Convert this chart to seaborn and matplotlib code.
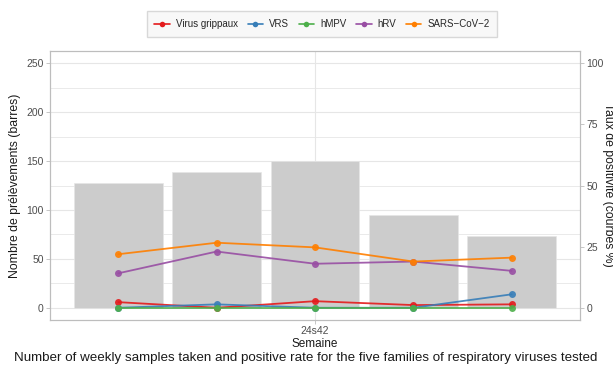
import matplotlib
matplotlib.use("Agg")
import matplotlib.pyplot as plt
import seaborn as sns
import pandas as pd
from matplotlib.lines import Line2D

# Weekly data
weeks = ["24s40", "24s41", "24s42", "24s43", "24s44"]
samples = [128, 139, 150, 95, 73]

virus_names = ["Virus grippaux", "VRS", "hMPV", "hRV", "SARS\u2212CoV\u22122"]
rate_grippe = [2.3, 0.0, 2.7, 1.1, 1.4]
rate_vrs = [0.0, 1.4, 0.0, 0.0, 5.5]
rate_hmpv = [0.0, 0.0, 0.0, 0.0, 0.0]
rate_hrv = [14.1, 23.0, 18.0, 18.9, 15.1]
rate_sars = [21.9, 26.6, 24.7, 18.9, 20.5]
colors = ["#E41A1C", "#377EB8", "#4DAF4A", "#984EA3", "#FF7F00"]

sns.set_theme(style="white")
plt.rcParams["font.family"] = ["Liberation Sans", "DejaVu Sans"]

bars = pd.DataFrame({"week": weeks, "samples": samples})
rates = pd.DataFrame({
    "week": weeks * 5,
    "virus": sum([[v] * len(weeks) for v in virus_names], []),
    "rate": rate_grippe + rate_vrs + rate_hmpv + rate_hrv + rate_sars,
})

fig = plt.figure(figsize=(6.13, 3.7), dpi=100)
ax = fig.add_axes([50 / 613, 1 - 320 / 370, 530 / 613, 269 / 370])

grid_c = "#e6e6e6"
border_c = "#bdbdbd"
ax.set_axisbelow(True)

sns.barplot(data=bars, x="week", y="samples", color="#CCCCCC", saturation=1,
            width=0.9, edgecolor="#e6e6e6", linewidth=0.5, ax=ax, zorder=2)
ax.set_xlim(-0.695, 4.695)
ax.set_ylim(-12.5, 262.5)
ax.set_xticks([2])
ax.set_xticklabels([weeks[2]])
ax.set_yticks([0, 50, 100, 150, 200, 250])
ax.set_yticks([25, 75, 125, 175, 225], minor=True)
ax.grid(True, axis="y", which="major", color=grid_c, lw=0.8, zorder=0)
ax.grid(True, axis="y", which="minor", color=grid_c, lw=0.6, zorder=0)
ax.grid(True, axis="x", which="major", color=grid_c, lw=0.8, zorder=0)

ax2 = ax.twinx()
ax2.set_position(ax.get_position())
sns.lineplot(data=rates, x="week", y="rate", hue="virus", hue_order=virus_names,
             palette=colors, marker="o", markersize=5, markeredgewidth=0,
             linewidth=1.3, alpha=0.9, legend=False, ax=ax2, sort=False)
ax2.set_ylim(-5, 105)
ax2.set_yticks([0, 25, 50, 75, 100])
ax2.set_xlim(-0.695, 4.695)
ax2.grid(False)

for a in (ax, ax2):
    for s in a.spines.values():
        s.set_color(border_c)
        s.set_linewidth(0.8)
    a.tick_params(axis="both", which="major", length=3, width=0.6, color=border_c,
                  labelsize=7.5, labelcolor="#4d4d4d", pad=1.5)
    a.tick_params(axis="y", which="minor", length=0)
ax.tick_params(axis="x", bottom=True)
ax2.tick_params(axis="y", right=True)

ax.set_xlabel("Semaine", fontsize=8.5, color="#1a1a1a", labelpad=1)
ax.set_ylabel("Nombre de prélèvements (barres)", fontsize=8.8, color="#1a1a1a", labelpad=4)
ax2.set_ylabel("")
fig.text(608 / 613, 1 - 185 / 370, "Taux de positivité (courbes %)", rotation=-90,
         ha="center", va="center", fontsize=8.8, color="#1a1a1a")

handles = [Line2D([0], [0], color=c, marker="o", markersize=4, lw=1.2, markeredgewidth=0)
           for c in colors]
leg = fig.legend(handles, virus_names, loc="center", bbox_to_anchor=(322 / 613, 1 - 24 / 370),
                 ncol=5, fontsize=7, frameon=True, handlelength=1.6, handletextpad=0.6,
                 columnspacing=1.0, borderpad=0.8, fancybox=False)
leg.get_frame().set_edgecolor("#d0d0d0")
leg.get_frame().set_facecolor("#f7f7f7")
leg.get_frame().set_linewidth(1.0)

fig.text(306 / 613, 1 - 358 / 370,
         "Number of weekly samples taken and positive rate for the five families of respiratory viruses tested",
         ha="center", va="center", fontsize=9.6, color="#1a1a1a")

fig.savefig("out.png", dpi=100)
